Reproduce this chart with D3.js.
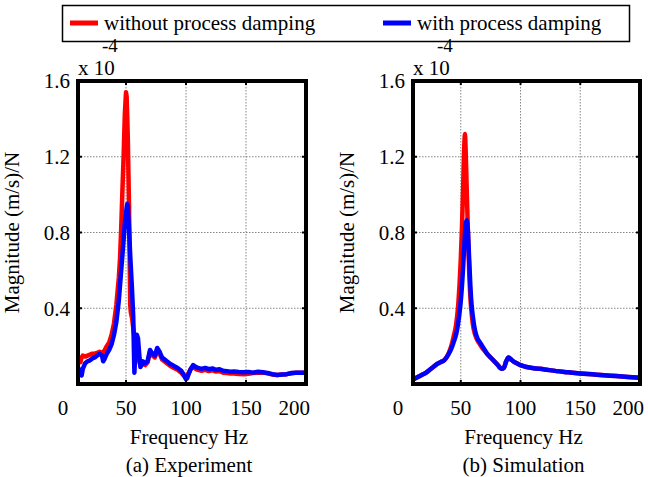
<!DOCTYPE html>
<html>
<head>
<meta charset="utf-8">
<script src="https://cdn.jsdelivr.net/npm/d3@7"></script>
<style>
html,body{margin:0;padding:0;background:#fff;}
</style>
</head>
<body>
<svg id="chart" width="648" height="477"></svg>
<script>
// ---------------- data ----------------
const seriesNames = ["without process damping", "with process damping"];
const seriesColors = ["#ff0000", "#0000ff"];

// (a) Experiment
const expFreq = [10,11,12,13,14,16,18,20,22,24,26,28,30,31,32,34,36,38,40,42,44,45,46,47,48,49,50,50.5,51,51.5,52,52.5,53,53.5,54,55,56,57,58,59,60,61,62,63,64,66,68,70,72,74,76,78,80,82,84,87,90,93,96,98,100,101,102,104,106,108,110,113,116,119,122,125,128,131,134,137,140,144,148,152,156,160,164,168,172,176,180,184,188,192,196,200];
const expWithout = [0.11,0.12,0.115,0.14,0.15,0.145,0.15,0.155,0.16,0.16,0.165,0.17,0.165,0.17,0.175,0.2,0.22,0.26,0.32,0.42,0.56,0.66,0.82,1.02,1.2,1.42,1.54,1.52,1.42,1.3,1.12,0.95,0.7,0.42,0.38,0.35,0.3,0.25,0.2,0.16,0.14,0.12,0.1,0.1,0.11,0.1,0.115,0.17,0.15,0.14,0.17,0.16,0.13,0.12,0.11,0.095,0.085,0.075,0.06,0.045,0.035,0.04,0.055,0.08,0.09,0.08,0.075,0.07,0.075,0.068,0.072,0.066,0.068,0.06,0.058,0.055,0.056,0.053,0.052,0.054,0.058,0.06,0.06,0.056,0.05,0.047,0.05,0.052,0.057,0.06,0.06,0.06];
const expWith = [0.09,0.07,0.05,0.045,0.08,0.11,0.12,0.125,0.135,0.14,0.15,0.16,0.15,0.12,0.13,0.16,0.18,0.21,0.26,0.33,0.44,0.52,0.6,0.68,0.76,0.85,0.9,0.93,0.95,0.94,0.88,0.82,0.75,0.68,0.62,0.5,0.36,0.06,0.2,0.26,0.24,0.16,0.09,0.1,0.12,0.11,0.12,0.18,0.16,0.15,0.19,0.17,0.14,0.13,0.12,0.105,0.095,0.085,0.07,0.05,0.025,0.03,0.05,0.08,0.1,0.09,0.085,0.08,0.085,0.078,0.082,0.075,0.078,0.07,0.068,0.065,0.066,0.063,0.062,0.064,0.06,0.065,0.062,0.058,0.052,0.048,0.05,0.052,0.058,0.06,0.06,0.06];

// (b) Simulation
const simFreq = [9,12,15,18,21,24,27,30,33,36,38,40,42,44,46,47,48,49,50,51,52,53,53.5,54,55,56,57,58,59,60,62,64,66,68,70,72,75,78,81,84,86,88,90,92,95,100,105,110,120,130,140,150,160,170,180,190,200];
const simWithout = [0.02,0.03,0.04,0.05,0.06,0.075,0.09,0.105,0.115,0.125,0.14,0.165,0.2,0.25,0.31,0.36,0.43,0.53,0.66,0.83,1.05,1.27,1.32,1.25,1.02,0.8,0.6,0.46,0.38,0.32,0.26,0.23,0.21,0.19,0.175,0.16,0.14,0.12,0.1,0.08,0.085,0.12,0.14,0.13,0.115,0.1,0.09,0.085,0.077,0.068,0.062,0.056,0.051,0.046,0.042,0.037,0.033];
const simWith = [0.02,0.03,0.04,0.05,0.06,0.075,0.09,0.105,0.115,0.125,0.14,0.16,0.185,0.22,0.26,0.29,0.33,0.38,0.44,0.52,0.62,0.74,0.79,0.84,0.865,0.8,0.66,0.52,0.42,0.36,0.28,0.24,0.22,0.2,0.18,0.16,0.14,0.12,0.1,0.08,0.085,0.12,0.14,0.13,0.115,0.1,0.09,0.085,0.077,0.068,0.062,0.056,0.051,0.046,0.042,0.037,0.033];

const xTickValues = [0,50,100,150,200];
const xGridValues = [50,100,150];
const yTickValues = [0.4,0.8,1.2,1.6];
const yTickLabels = ["0.4","0.8","1.2","1.6"];
const xTitle = "Frequency Hz";
const yTitle = "Magnitude (m/s)/N";
const panelTitles = ["(a) Experiment", "(b) Simulation"];
const exponentBase = "x 10";
const exponentPower = "-4";

// ---------------- drawing ----------------
const svg = d3.select("#chart");
const FS = 21;
const FF = "'Liberation Serif', 'Times New Roman', Times, serif";
function txt(sel){ return sel.append("text").attr("font-family",FF).attr("font-size",FS).attr("fill","#000"); }

// legend
const leg = svg.append("g");
leg.append("rect").attr("x",62.5).attr("y",5.5).attr("width",567).attr("height",36)
  .attr("fill","#fff").attr("stroke","#000").attr("stroke-width",1.5);
const legX = [70, 383];
seriesNames.forEach((n,i)=>{
  leg.append("line").attr("x1",legX[i]).attr("x2",legX[i]+28).attr("y1",23).attr("y2",23)
    .attr("stroke",seriesColors[i]).attr("stroke-width",5);
  txt(leg).attr("x",legX[i]+34).attr("y",30).text(n);
});

const panels = [
  {left:78, right:306, freq:expFreq, series:[expWithout, expWith], title:panelTitles[0], curve:d3.curveLinear},
  {left:413, right:640, freq:simFreq, series:[simWithout, simWith], title:panelTitles[1], curve:d3.curveMonotoneX}
];
const plotTop = 81, plotBottom = 384;

panels.forEach(p=>{
  const g = svg.append("g");
  const x = d3.scaleLinear().domain([10,200]).range([p.left,p.right]);
  const y = d3.scaleLinear().domain([0,1.6]).range([plotBottom,plotTop]);

  // grid
  g.selectAll(".gx").data(xGridValues).join("line")
    .attr("x1",d=>x(d)).attr("x2",d=>x(d)).attr("y1",plotTop).attr("y2",plotBottom)
    .attr("stroke","#666").attr("stroke-width",0.8).attr("stroke-dasharray","1.5,1.5");
  g.selectAll(".gy").data(yTickValues.slice(0,3)).join("line")
    .attr("x1",p.left).attr("x2",p.right).attr("y1",d=>y(d)).attr("y2",d=>y(d))
    .attr("stroke","#666").attr("stroke-width",0.8).attr("stroke-dasharray","1.5,1.5");

  // lines
  const clipId = "clip"+p.left;
  svg.append("clipPath").attr("id",clipId).append("rect")
    .attr("x",p.left).attr("y",plotTop-20).attr("width",p.right-p.left).attr("height",plotBottom-plotTop+20);
  p.series.forEach((vals,i)=>{
    const line = d3.line().x((d,j)=>x(p.freq[j])).y(d=>y(d)).curve(p.curve);
    g.append("path").datum(vals).attr("d",line).attr("fill","none")
      .attr("stroke",seriesColors[i]).attr("stroke-width",4.5)
      .attr("stroke-linejoin","round").attr("stroke-linecap","round")
      .attr("clip-path",`url(#${clipId})`);
  });

  // inner tick marks
  const tl = 4;
  xGridValues.forEach(v=>{
    g.append("line").attr("x1",x(v)).attr("x2",x(v)).attr("y1",plotBottom).attr("y2",plotBottom-tl).attr("stroke","#000").attr("stroke-width",2);
    g.append("line").attr("x1",x(v)).attr("x2",x(v)).attr("y1",plotTop).attr("y2",plotTop+tl).attr("stroke","#000").attr("stroke-width",2);
  });
  yTickValues.slice(0,3).forEach(v=>{
    g.append("line").attr("x1",p.left).attr("x2",p.left+tl).attr("y1",y(v)).attr("y2",y(v)).attr("stroke","#000").attr("stroke-width",2);
    g.append("line").attr("x1",p.right).attr("x2",p.right-tl).attr("y1",y(v)).attr("y2",y(v)).attr("stroke","#000").attr("stroke-width",2);
  });

  // frame
  g.append("rect").attr("x",p.left).attr("y",plotTop).attr("width",p.right-p.left).attr("height",plotBottom-plotTop)
    .attr("fill","none").attr("stroke","#000").attr("stroke-width",4);

  // y tick labels
  yTickValues.forEach((v,i)=>{
    txt(g).attr("x",p.left-8).attr("y",y(v)).attr("dy","0.35em")
      .attr("text-anchor","end").text(yTickLabels[i]);
  });
  // x tick labels
  xTickValues.forEach((v,i)=>{
    const last = i===xTickValues.length-1;
    txt(g).attr("x", last ? p.right+4 : x(v)-(i===0?3:0)).attr("y",415)
      .attr("text-anchor", last ? "end" : "middle").text(v);
  });
  // titles
  const cx = (x(0)+p.right)/2+3;
  txt(g).attr("x",cx).attr("y",444).attr("text-anchor","middle").text(xTitle);
  txt(g).attr("x",cx).attr("y",472).attr("text-anchor","middle").text(p.title);
  txt(g).attr("transform",`translate(${p.left-59},${(plotTop+plotBottom)/2}) rotate(-90)`)
    .attr("text-anchor","middle").text(yTitle);
  // exponent
  txt(g).attr("x",p.left).attr("y",75).text(exponentBase);
  txt(g).attr("x",p.left+24).attr("y",52).attr("font-size",FS-2).text(exponentPower);
});
</script>
</body>
</html>
